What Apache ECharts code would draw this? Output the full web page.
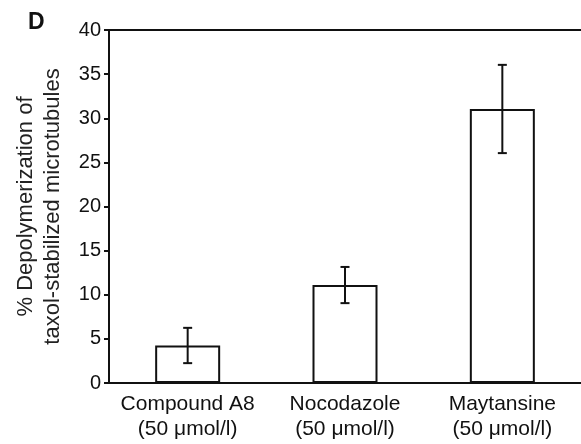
<!DOCTYPE html>
<html>
<head>
<meta charset="utf-8">
<script src="https://cdn.jsdelivr.net/npm/echarts@6/dist/echarts.min.js"></script>
<style>html,body{margin:0;padding:0;background:#fff;}#c{width:581px;height:444px;}</style>
</head>
<body>
<div id="c"></div>
<script>
const categories = ['Compound A8\n(50 μmol/l)', 'Nocodazole\n(50 μmol/l)', 'Maytansine\n(50 μmol/l)'];
const meanValues = [4.25, 11.1, 31.05];
const errorValues = [2.0, 2.05, 5.0];
const yTicks = [0, 5, 10, 15, 20, 25, 30, 35, 40];

const chart = echarts.init(document.getElementById('c'));
const font = 'Liberation Sans, Arial, Helvetica, sans-serif';
const errData = categories.map((c, i) => [i, meanValues[i] - errorValues[i], meanValues[i] + errorValues[i]]);

chart.setOption({
  animation: false,
  backgroundColor: '#fff',
  textStyle: { fontFamily: font },
  graphic: [{
    type: 'text', left: 28, top: 11,
    style: { text: 'D', font: 'bold 23px ' + font, fill: '#111' }
  }],
  grid: { left: 109, top: 30, bottom: 61, right: -2, containLabel: false },
  xAxis: [{
    type: 'category',
    data: categories,
    axisLine: { lineStyle: { color: '#111', width: 2 } },
    axisTick: { show: false },
    axisLabel: { color: '#111', fontSize: 21, lineHeight: 25, margin: 9, fontFamily: font, interval: 0 }
  }, {
    type: 'category',
    position: 'top',
    data: categories,
    axisLine: { show: true, onZero: false, lineStyle: { color: '#111', width: 2 } },
    axisTick: { show: false },
    axisLabel: { show: false }
  }],
  yAxis: {
    type: 'value',
    min: yTicks[0], max: yTicks[yTicks.length - 1], interval: 5,
    name: '% Depolymerization of\ntaxol-stabilized microtubules',
    nameLocation: 'middle',
    nameRotate: 90,
    nameGap: 43,
    nameTextStyle: { color: '#222', fontSize: 22, lineHeight: 27, fontFamily: font },
    axisLine: { show: true, lineStyle: { color: '#111', width: 2 } },
    axisTick: { show: true, length: 5, lineStyle: { color: '#111', width: 2 } },
    axisLabel: { color: '#111', fontSize: 20, margin: 8, fontFamily: font },
    splitLine: { show: false }
  },
  series: [{
    type: 'bar',
    data: meanValues,
    barWidth: 65,
    itemStyle: { color: '#fff', borderColor: '#111', borderWidth: 2 },
    z: 2
  }, {
    type: 'custom',
    data: errData,
    z: 3,
    renderItem: function (params, api) {
      const x = api.value(0);
      const lo = api.coord([x, api.value(1)]);
      const hi = api.coord([x, api.value(2)]);
      const hw = 4.5;
      const st = { stroke: '#111', lineWidth: 2 };
      return {
        type: 'group',
        children: [
          { type: 'line', shape: { x1: lo[0], y1: lo[1], x2: hi[0], y2: hi[1] }, style: st },
          { type: 'line', shape: { x1: lo[0] - hw, y1: lo[1], x2: lo[0] + hw, y2: lo[1] }, style: st },
          { type: 'line', shape: { x1: hi[0] - hw, y1: hi[1], x2: hi[0] + hw, y2: hi[1] }, style: st }
        ]
      };
    }
  }]
});
</script>
</body>
</html>
